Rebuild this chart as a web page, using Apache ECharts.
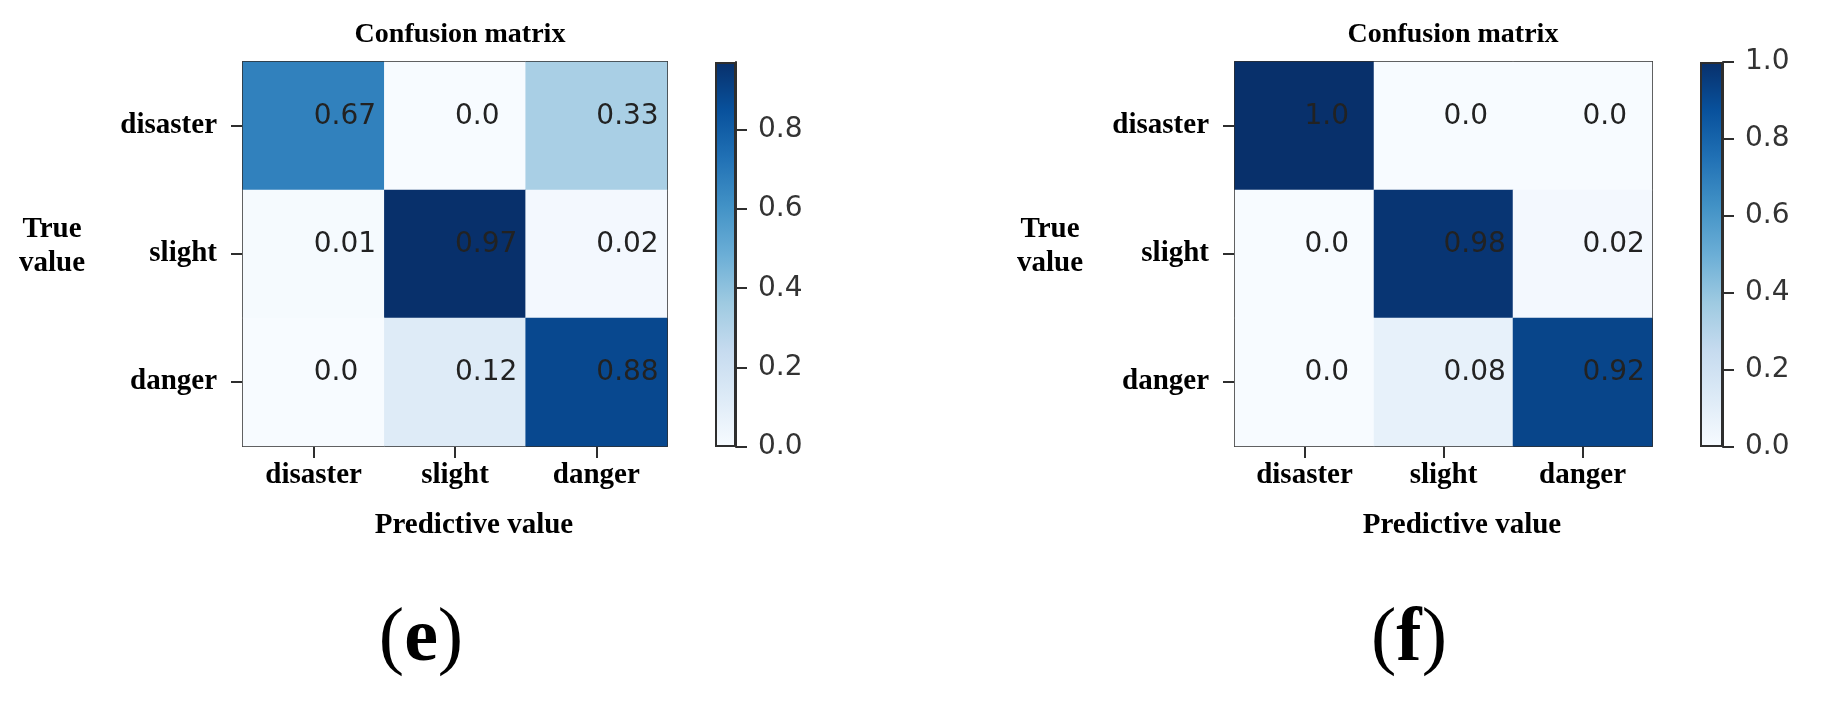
<!DOCTYPE html>
<html>
<head>
<meta charset="utf-8">
<script src="https://cdn.jsdelivr.net/npm/echarts@6.0.0/dist/echarts.min.js"></script>
<style>
  html, body { margin: 0; padding: 0; background: #fff; }
  #main { width: 1821px; height: 702px; }
</style>
</head>
<body>
<div id="main"></div>
<script>
// classes, shared by both matrices (rows = true value, columns = predictive value)
var classes = ['disaster', 'slight', 'danger'];

// (e) confusion matrix
var matrixE = [
  [0.67, 0.0, 0.33],
  [0.01, 0.97, 0.02],
  [0.0, 0.12, 0.88]
];
var colorMaxE = 0.97;
var cbarTicksE = [0, 0.2, 0.4, 0.6, 0.8];

// (f) confusion matrix
var matrixF = [
  [1.0, 0.0, 0.0],
  [0.0, 0.98, 0.02],
  [0.0, 0.08, 0.92]
];
var colorMaxF = 1.0;
var cbarTicksF = [0, 0.2, 0.4, 0.6, 0.8, 1.0];

// matplotlib "Blues"
var blues = ['#f7fbff', '#deebf7', '#c6dbef', '#9ecae1', '#6baed6', '#4292c6', '#2171b5', '#08519c', '#08306b'];

var serif = '"Liberation Serif", "Times New Roman", serif';
var sans = '"DejaVu Sans", sans-serif';
var lineCol = '#2e2e2e';

function cellData(m) {
  var out = [];
  for (var r = 0; r < m.length; r++) {
    for (var c = 0; c < m[r].length; c++) {
      out.push([c, r, m[r][c]]);
    }
  }
  return out;
}

function fmt(v) {
  return Number.isInteger(v) ? v.toFixed(1) : String(v);
}

var chart = echarts.init(document.getElementById('main'), null, { renderer: 'canvas' });

// panel geometry
var panels = [
  { heat: { left: 243, top: 62, width: 424, height: 384 }, cbar: { left: 715, top: 62, width: 21, height: 385 },
    data: matrixE, max: colorMaxE, ticks: cbarTicksE },
  { heat: { left: 1235, top: 62, width: 417, height: 384 }, cbar: { left: 1700, top: 62, width: 23, height: 385 },
    data: matrixF, max: colorMaxF, ticks: cbarTicksF }
];

var grid = [], xAxis = [], yAxis = [], series = [], visualMap = [];

panels.forEach(function (p, i) {
  var gHeat = grid.length;
  grid.push(p.heat);
  var gBar = grid.length;
  grid.push(p.cbar);

  var xi = xAxis.length, yi = yAxis.length;
  // heatmap: bottom axis with labels
  xAxis.push({
    type: 'category', gridIndex: gHeat, data: classes, position: 'bottom',
    axisLine: { show: true, lineStyle: { color: lineCol, width: 2 } },
    axisTick: { show: true, alignWithLabel: true, length: 12, lineStyle: { color: lineCol, width: 2 } },
    axisLabel: { margin: 15, fontFamily: serif, fontWeight: 'bold', fontSize: 29, color: '#000' },
    splitLine: { show: false }
  });
  // heatmap: top border
  xAxis.push({
    type: 'category', gridIndex: gHeat, data: classes, position: 'top',
    axisLine: { show: true, lineStyle: { color: lineCol, width: 2 } },
    axisTick: { show: false }, axisLabel: { show: false }
  });
  // colorbar x (hidden)
  xAxis.push({ type: 'category', gridIndex: gBar, data: [''], show: false });

  yAxis.push({
    type: 'category', gridIndex: gHeat, data: classes, inverse: true, position: 'left',
    axisLine: { show: true, lineStyle: { color: lineCol, width: 2 } },
    axisTick: { show: true, alignWithLabel: true, length: 12, lineStyle: { color: lineCol, width: 2 } },
    axisLabel: { margin: 26, fontFamily: serif, fontWeight: 'bold', fontSize: 29, color: '#000' },
    splitLine: { show: false }
  });
  yAxis.push({
    type: 'category', gridIndex: gHeat, data: classes, inverse: true, position: 'right',
    axisLine: { show: true, lineStyle: { color: lineCol, width: 2 } },
    axisTick: { show: false }, axisLabel: { show: false }
  });
  yAxis.push({
    type: 'value', gridIndex: gBar, position: 'right', min: 0, max: p.max,
    axisLine: { show: true, lineStyle: { color: lineCol, width: 2 } },
    axisTick: { show: true, length: 11, customValues: p.ticks, lineStyle: { color: lineCol, width: 2 } },
    axisLabel: { margin: 22, customValues: p.ticks, fontFamily: sans, fontSize: 28, color: '#333',
      formatter: function (v) { return v.toFixed(1); } },
    splitLine: { show: false }
  });

  var sHeat = series.length;
  series.push({
    type: 'heatmap', xAxisIndex: xi, yAxisIndex: yi, data: cellData(p.data),
    label: {
      show: true, position: 'inside', align: 'left', verticalAlign: 'middle', offset: [0, -9],
      fontFamily: sans, fontSize: 28, color: '#222',
      formatter: function (d) { return fmt(d.value[2]); }
    },
    emphasis: { disabled: true }
  });
  var stops = blues.map(function (c, k) { return { offset: k / (blues.length - 1), color: c }; });
  series.push({
    type: 'bar', xAxisIndex: xi + 2, yAxisIndex: yi + 2, data: [p.max],
    barWidth: '100%', silent: true,
    itemStyle: { color: new echarts.graphic.LinearGradient(0, 1, 0, 0, stops), borderColor: lineCol, borderWidth: 2 }
  });

  visualMap.push({
    type: 'continuous', show: false, seriesIndex: sHeat, min: 0, max: p.max,
    inRange: { color: blues }
  });
});

function txt(x, y, text, size, extra) {
  var style = { text: text, x: 0, y: 0, fontFamily: serif, fontWeight: 'bold', fontSize: size, fill: '#000',
    align: 'center', verticalAlign: 'middle' };
  for (var k in extra) style[k] = extra[k];
  return { type: 'text', x: x, y: y, style: style };
}

var panelTag = {
  p: { fontFamily: serif, fontWeight: 'normal', fontSize: 76, fill: '#000' },
  b: { fontFamily: serif, fontWeight: 'bold', fontSize: 76, fill: '#000' }
};

var graphic = [
  txt(460, 35, 'Confusion matrix', 28),
  txt(1453, 35, 'Confusion matrix', 28),
  txt(52, 247, 'True\nvalue', 29, { lineHeight: 34 }),
  txt(1050, 247, 'True\nvalue', 29, { lineHeight: 34 }),
  txt(474, 526, 'Predictive value', 29),
  txt(1462, 526, 'Predictive value', 29),
  txt(421, 640, '{p|(}{b|e}{p|)}', 76, { rich: panelTag }),
  txt(1409, 640, '{p|(}{b|f}{p|)}', 76, { rich: panelTag })
];

chart.setOption({
  animation: false,
  backgroundColor: '#fff',
  grid: grid,
  xAxis: xAxis,
  yAxis: yAxis,
  visualMap: visualMap,
  series: series,
  graphic: graphic
});
</script>
</body>
</html>
